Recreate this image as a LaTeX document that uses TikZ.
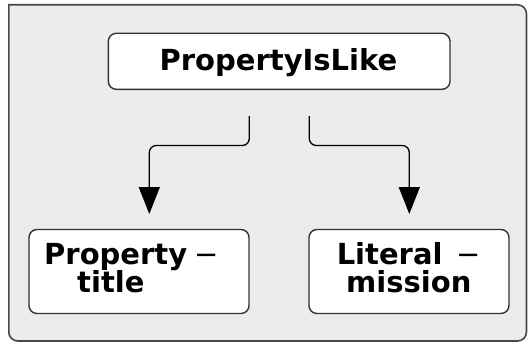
\documentclass[tikz,border=0pt]{standalone}
\usepackage{fontspec}
\setmainfont{DejaVu Sans}
\usetikzlibrary{arrows.meta}
\definecolor{bgfill}{HTML}{ECECEC}
\definecolor{edge}{HTML}{333333}
\tikzset{
  boxnode/.style={draw=edge, line width=1.4pt, fill=white, rounded corners=8pt, inner sep=0pt},
  txt/.style={inner sep=0pt, font=\fontsize{29}{28.3}\selectfont\bfseries, text=black},
  conn/.style={draw=black, line width=1.3pt, rounded corners=7pt, -{Triangle[width=21pt,length=27pt]}}
}
\newcommand{\thindash}{{\mdseries −}}
\begin{document}
\begin{tikzpicture}[x=1pt,y=-1pt]
\useasboundingbox (0,0) rectangle (529,345);
% outer frame
\draw[draw=edge!90, line width=1.6pt, fill=bgfill]
  (8.8,150) [sharp corners] -- (8.8,4.8) [rounded corners=9pt] -- (526.5,4.8)
  -- (526.5,341) -- (8.8,341) -- cycle;
% boxes
\node[boxnode, minimum width=341.7pt, minimum height=56pt] (top) at (279.15,61.3) {};
\node[boxnode, minimum width=220pt, minimum height=84pt] (left) at (139,271.5) {};
\node[boxnode, minimum width=200pt, minimum height=84pt] (right) at (409,271.5) {};
% texts
\node[txt, anchor=base] (toptxt) at (278.5,70) {PropertyIsLike};
\node[txt, anchor=west, align=left] (lefttxt) at (44,268.3) {Property\hspace*{7pt}\thindash\\\hspace*{33pt}title};
\node[txt, align=center] (righttxt) at (408.8,268) {Literal\hspace*{14pt}\thindash\\mission};
% connectors
\coordinate (s1) at (249.3,116);
\coordinate (e1) at (149.3,214);
\coordinate (s2) at (309.3,116);
\coordinate (e2) at (409.3,214);
\draw[conn] (s1) |- (199,145.5) -| (e1);
\draw[conn] (s2) |- (359,145.5) -| (e2);
\end{tikzpicture}
\end{document}
